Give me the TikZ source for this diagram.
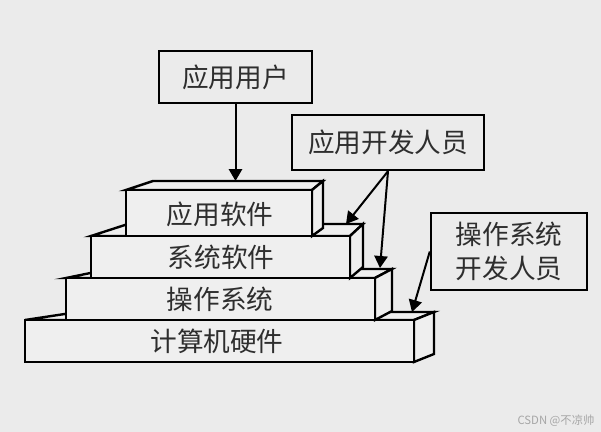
\documentclass[tikz,border=0pt]{standalone}
\usepackage{fontspec}
\newfontfamily\cjk{Noto Sans CJK SC}
\usetikzlibrary{arrows.meta}
\definecolor{bggray}{HTML}{EBEBEB}
\definecolor{facegray}{HTML}{EFEFEF}
\definecolor{inkgray}{HTML}{2E2E2E}
\tikzset{
  face/.style={fill=facegray, draw=black, line join=miter},
  tagbox/.style={draw=black, fill=bggray, line width=1.8pt, inner sep=0pt},
  pointer/.style={-{Triangle[length=9pt,width=10pt]}, line width=1.5pt}
}
\begin{document}
\begin{tikzpicture}[x=0.75pt, y=-0.75pt, line width=1.8pt,
    every node/.style={font=\cjk\fontsize{20}{26}\selectfont, text=inkgray}]
  \useasboundingbox[fill=bggray] (0,0) rectangle (601,432);
  % four stacked blocks, bottom first so the upper ones hide the back edges
  \draw[face] (25,320) -- (78,312) -- (434,312) -- (414,320) -- cycle;
  \draw[face] (414,320) -- (434,312) -- (434,354) -- (414,362) -- cycle;
  \draw[face] (25,320) rectangle (414,362);
  \node (hw) at (217,341) {计算机硬件};
  \draw[face] (66,278) -- (110,269) -- (392,269) -- (375,278) -- cycle;
  \draw[face] (375,278) -- (392,269) -- (392,311) -- (375,320) -- cycle;
  \draw[face] (66,278) rectangle (375,320);
  \node (os) at (220,299) {操作系统};
  \draw[face] (91,236) -- (128,224) -- (363,224) -- (350,236) -- cycle;
  \draw[face] (350,236) -- (363,224) -- (363,267) -- (350,278) -- cycle;
  \draw[face] (91,236) rectangle (350,278);
  \node (sys) at (221,257) {系统软件};
  \draw[face] (126,190) -- (153,181) -- (323,181) -- (312,190) -- cycle;
  \draw[face] (312,190) -- (323,181) -- (323,228) -- (312,236) -- cycle;
  \draw[face] (126,190) rectangle (312,236);
  \node (app) at (220,214) {应用软件};
  % landing points on the exposed steps
  \coordinate (appTop) at (235.5,181);
  \coordinate (sysStep) at (346,224);
  \coordinate (osStep) at (380,268);
  \coordinate (hwStep) at (412,312);
  % people
  \node[tagbox, minimum width=114.75pt, minimum height=39pt] (user) at (235.5,77) {应用用户};
  \node[tagbox, minimum width=144pt, minimum height=41.25pt] (appdev) at (388,142.5) {应用开发人员};
  \node[tagbox, minimum width=117pt, minimum height=57.75pt, align=center] (osdev) at (509,251.5) {操作系统\\开发人员};
  \draw[pointer] (user.south) -- (appTop);
  \draw[pointer] (appdev.south) -- (sysStep);
  \draw[pointer] (appdev.south) -- (osStep);
  \draw[pointer] (osdev.west) -- (hwStep);
  \node[font=\cjk\fontsize{8.5}{10}\selectfont, text=black!35] (mark) at (556,421) {CSDN @不凉帅};
\end{tikzpicture}
\end{document}
